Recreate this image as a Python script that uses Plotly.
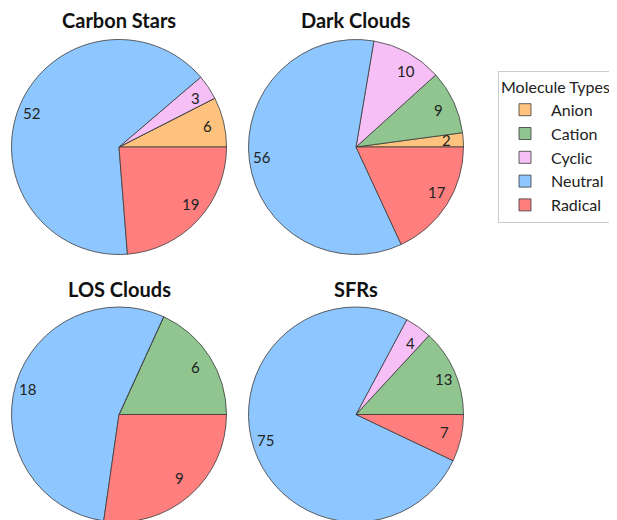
import math
import plotly.graph_objects as go

# ---- data ----
molecule_types = ["Anion", "Cation", "Cyclic", "Neutral", "Radical"]
regions = ["Carbon Stars", "Dark Clouds", "LOS Clouds", "SFRs"]
carbon_stars = [6, 0, 3, 52, 19]
dark_clouds = [2, 9, 10, 56, 17]
los_clouds = [0, 6, 0, 18, 9]
sfrs = [0, 13, 4, 75, 7]
series = [carbon_stars, dark_clouds, los_clouds, sfrs]

colors = ["#ffc37f", "#90c590", "#f6c0f6", "#8ec7ff", "#ff7f7f"]

# ---- layout (pixels, screen coords; page body has an 8px margin) ----
W, H = 617, 520
OFF = 8
R = 107.5
LABEL_DIST = 0.8
centers_screen = [(119, 147), (356, 147), (119, 414.5), (356, 414.5)]
title_y_screen = [20, 20, 289, 289]
FONT = "Lato, 'Open Sans', sans-serif"

def fx(px):
    return (px - OFF) / W

def fy(py):
    return 1 - (py - OFF) / H

fig = go.Figure()
annotations = []
for i, (name, vals) in enumerate(zip(regions, series)):
    cx, cy = centers_screen[i]
    total = sum(vals)
    dom_x = [fx(cx - R), fx(cx + R)]
    dom_y = [fy(cy + R), fy(cy - R)]
    fig.add_trace(go.Pie(
        labels=molecule_types, values=vals, name=name,
        sort=False, direction="counterclockwise",
        rotation=90 - 360.0 * vals[0] / total,
        marker=dict(colors=colors, line=dict(color="#3a3a3a", width=0.8)),
        textinfo="none", hoverinfo="label+value",
        domain=dict(x=dom_x, y=dom_y),
        showlegend=True,
    ))
    # value labels placed along slice bisector, aligned away from centre
    start = 0.0
    for v in vals:
        if v == 0:
            continue
        ang = start + v / total * 180.0
        start += v / total * 360.0
        d = LABEL_DIST * R
        c, s = math.cos(math.radians(ang)), math.sin(math.radians(ang))
        px = cx + d * c
        py = cy - d * s
        annotations.append(dict(
            x=fx(px), y=fy(py), xref="paper", yref="paper",
            xanchor="left" if c > 0 else "right", yanchor="middle",
            text=str(v), showarrow=False, borderpad=0, borderwidth=0,
            yshift=1,
            font=dict(size=15, color="#222222", family=FONT),
        ))
    annotations.append(dict(
        x=fx(cx), y=fy(title_y_screen[i]), xref="paper", yref="paper",
        xanchor="center", yanchor="middle",
        text="<b>" + name + "</b>", showarrow=False,
        font=dict(size=20, color="#111111", family=FONT),
    ))

fig.update_layout(
    width=W, height=H,
    margin=dict(l=0, r=0, t=0, b=0),
    paper_bgcolor="white", plot_bgcolor="white",
    font=dict(family=FONT, size=15, color="#222222"),
    annotations=annotations,
    legend=dict(
        title=dict(text="Molecule Types", font=dict(size=16)),
        x=fx(498), y=fy(71), xanchor="left", yanchor="top",
        bordercolor="#cccccc", borderwidth=1, bgcolor="white",
        font=dict(size=16), tracegroupgap=0, itemwidth=42,
    ),
)

fig.write_html("out.html")
